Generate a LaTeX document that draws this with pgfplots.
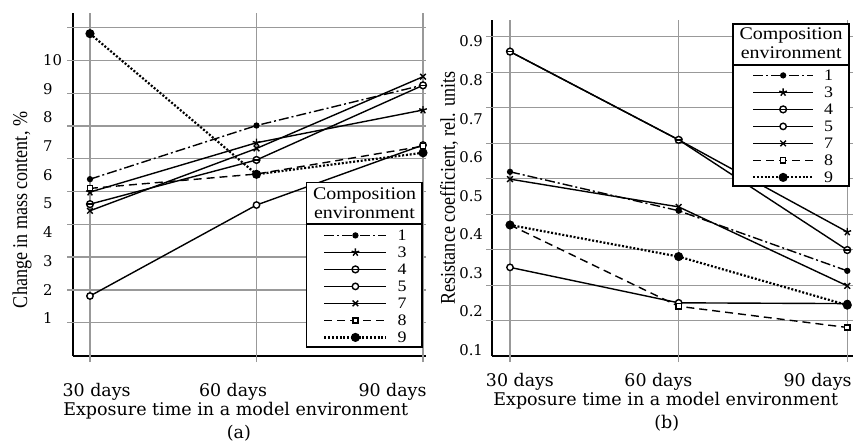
\documentclass[border=0pt]{standalone}
\usepackage{pgfplots}
\pgfplotsset{compat=1.18}
\usepackage{fontspec}
\setmainfont{Liberation Serif}
\newfontfamily\tickfam{DejaVu Serif}
\newfontfamily\legfam{Liberation Serif}[FakeStretch=1.12]
\newfontfamily\ylabfam{Liberation Serif}[FakeStretch=0.86]

\pgfdeclareplotmark{ominus}{%
  \pgfpathcircle{\pgfpointorigin}{\pgfplotmarksize}%
  \pgfusepathqfillstroke
  \pgfpathmoveto{\pgfpoint{-\pgfplotmarksize}{0pt}}%
  \pgfpathlineto{\pgfpoint{\pgfplotmarksize}{0pt}}%
  \pgfusepathqstroke}

\pgfplotsset{
  base/.style={
    scale only axis, anchor=south west, clip=false,
    axis x line*=bottom, axis y line*=left,
    axis line style={line width=1pt,-},
    major tick length=0pt,
    major grid style={black!40, line width=0.6pt},
    extra x ticks={0,1,2}, extra x tick labels={},
    extra tick style={grid=major, major tick length=3pt, tick align=outside, tick style={black!40, line width=0.6pt}},
    xticklabel style={anchor=base, font=\tickfam\fontsize{8.7}{10}\selectfont},
    xticklabels={30 days,60 days,90 days},
    every axis y label/.style={rotate=90, anchor=center, font=\ylabfam\fontsize{10.5}{12}\selectfont},
    every axis x label/.style={anchor=base, font=\tickfam\fontsize{8.75}{10}\selectfont},
    every axis title/.style={anchor=base, font=\tickfam\fontsize{8.75}{10}\selectfont},
    legend style={draw=none, fill=none, inner sep=0pt, row sep=3.1pt, column sep=5pt,
      font=\legfam\fontsize{8}{9}\selectfont,
      nodes={inner sep=0pt, text height=5.4pt, text depth=0pt}, cells={anchor=center}},
  },
  s1/.style={black, line width=0.7pt, dash pattern=on 5pt off 1.5pt on 1pt off 1.5pt, mark=*, mark size=1.2pt, mark options={solid}},
  s3/.style={black, line width=0.7pt, mark=star, mark size=2pt, mark options={solid}},
  s4/.style={black, line width=0.7pt, mark=ominus, mark size=1.7pt, mark options={solid, fill=white}},
  s5/.style={black, line width=0.7pt, mark=*, mark size=1.6pt, mark options={solid, fill=white}},
  s7/.style={black, line width=0.7pt, mark=x, mark size=2pt, mark options={solid}},
  s8/.style={black, line width=0.7pt, dash pattern=on 4pt off 2.5pt, mark=square*, mark size=1.3pt, mark options={solid, fill=white}},
  s9/.style={black, line width=1.1pt, dash pattern=on 1pt off 0.9pt, mark=*, mark size=1.7pt, mark options={solid}},
}

\begin{document}
\begin{tikzpicture}
\path[use as bounding box] (0,0) rectangle (427.5pt,-221pt);

% ---------------- (a) ----------------
\begin{axis}[base,
  at={(36.5pt,-178pt)}, width=176.5pt, height=171.5pt,
  xmin=-0.102, xmax=2.018, ymin=-0.31, ymax=11.64,
  xtick={0.04,0.859,1.817},
  xticklabel style={yshift=-20.35pt},
  ytick={1,2,3,4,5,6,7,8,9,10},
  yticklabels={1,2,3,4,5,6,7,8,9,10},
  yticklabel style={anchor=west, inner sep=0pt, xshift=-15.15pt, font=\tickfam\fontsize{7.4}{9}\selectfont},
  extra y ticks={11.127,9.984,8.843,7.700,6.557,5.414,4.272,3.136,1.990,0.847},
  extra y tick labels={},
  ylabel={Change in mass content, \%},
  ylabel style={at={(rel axis cs:-0.1445,0.4257)}},
  xlabel={Exposure time in a model environment},
  xlabel style={at={(rel axis cs:0.461,0)}, yshift=-29.5pt},
  title={(a)},
  title style={at={(rel axis cs:0.470,0)}, yshift=-41.25pt},
  legend style={at={(0.708,0.3685)}, anchor=north west},
  legend image code/.code={\draw[mark repeat=2,mark phase=2,#1] plot coordinates {(0pt,0pt) (15.5pt,0pt) (31pt,0pt)};},
]
\addplot[s1] coordinates {(0,5.85) (1,7.72) (2,9.13)};
\addplot[s3] coordinates {(0,5.40) (1,7.12) (2,8.26)};
\addplot[s4] coordinates {(0,4.98) (1,6.52) (2,9.12)};
\addplot[s5] coordinates {(0,1.78) (1,4.95) (2,7.04)};
\addplot[s7] coordinates {(0,4.75) (1,6.92) (2,9.42)};
\addplot[s8] coordinates {(0,5.53) (1,6.03) (2,7.00)};
\addplot[s9] coordinates {(0,10.92) (1,6.02) (2,6.77)};
\legend{1,3,4,5,7,8,9}
\draw[line width=0.8pt, fill=white] (rel axis cs:0.662,0.0271) rectangle (rel axis cs:0.9895,0.5064);
\draw[line width=0.8pt] (rel axis cs:0.662,0.3848) -- (rel axis cs:0.9895,0.3848);
\node[anchor=base, font=\legfam\fontsize{8.9}{10}\selectfont] at (rel axis cs:0.8258,0.4577) {Composition};
\node[anchor=base, font=\legfam\fontsize{8.9}{10}\selectfont] at (rel axis cs:0.8258,0.4023) {environment};
\end{axis}

% ---------------- (b) ----------------
\begin{axis}[base,
  at={(246.15pt,-178pt)}, width=180.35pt, height=168pt,
  xmin=-0.105, xmax=2.034, ymin=0.084, ymax=0.956,
  xtick={0.059,0.88,1.824},
  xticklabel style={yshift=-15.35pt},
  ytick={0.1,0.2,0.3,0.4,0.5,0.6,0.7,0.8,0.9},
  yticklabels={0.1,0.2,0.3,0.4,0.5,0.6,0.7,0.8,0.9},
  yticklabel style={anchor=east, inner sep=0pt, xshift=-4.5pt, font=\tickfam\fontsize{7.4}{9}\selectfont},
  extra y ticks={0.913,0.8205,0.7283,0.636,0.5439,0.4517,0.3595,0.2673,0.1751},
  extra y tick labels={},
  ylabel={Resistance coefficient, rel. units},
  ylabel style={at={(rel axis cs:-0.12,0.5)}},
  xlabel={Exposure time in a model environment},
  xlabel style={at={(rel axis cs:0.481,0)}, yshift=-24.5pt},
  title={(b)},
  title style={at={(rel axis cs:0.4835,0)}, yshift=-36pt},
  legend style={at={(0.719,0.8524)}, anchor=north west},
  legend image code/.code={\draw[mark repeat=2,mark phase=2,#1] plot coordinates {(0pt,0pt) (15pt,0pt) (30pt,0pt)};},
]
\addplot[s1] coordinates {(0,0.562) (1,0.461) (2,0.305)};
\addplot[s3] coordinates {(0,0.874) (1,0.645) (2,0.406)};
\addplot[s4] coordinates {(0,0.874) (1,0.645) (2,0.359)};
\addplot[s5] coordinates {(0,0.314) (1,0.222) (2,0.220)};
\addplot[s7] coordinates {(0,0.543) (1,0.471) (2,0.266)};
\addplot[s8] coordinates {(0,0.424) (1,0.213) (2,0.158)};
\addplot[s9] coordinates {(0,0.424) (1,0.342) (2,0.216)};
\legend{1,3,4,5,7,8,9}
\draw[line width=0.8pt, fill=white] (rel axis cs:0.668,0.506) rectangle (rel axis cs:0.989,0.988);
\draw[line width=0.8pt] (rel axis cs:0.668,0.866) -- (rel axis cs:0.989,0.866);
\node[anchor=base, font=\legfam\fontsize{8.9}{10}\selectfont] at (rel axis cs:0.8285,0.9405) {Composition};
\node[anchor=base, font=\legfam\fontsize{8.9}{10}\selectfont] at (rel axis cs:0.8285,0.8854) {environment};
\end{axis}
\end{tikzpicture}
\end{document}
